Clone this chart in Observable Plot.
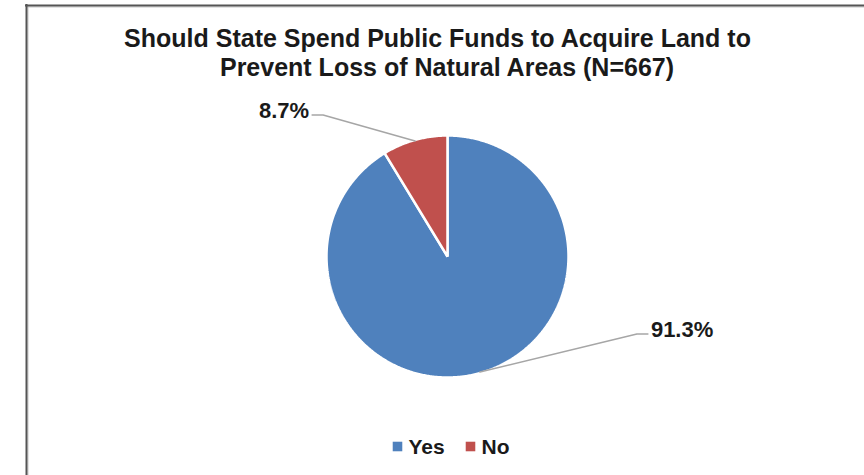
<!DOCTYPE html>
<html><head><meta charset="utf-8">
<script src="https://cdn.jsdelivr.net/npm/d3@7"></script>
<script src="https://cdn.jsdelivr.net/npm/@observablehq/plot@0.6"></script>
<style>html,body{margin:0;padding:0;background:#fff} svg{display:block}</style>
</head><body><div id="chart"></div>
<script>
// ---- data ----
const categories = ["Yes", "No"];
const percents = [91.3, 8.7];
const colors = ["#4F81BD", "#C0504D"];
const titleLines = ["Should State Spend Public Funds to Acquire Land to", "Prevent Loss of Natural Areas (N=667)"];

// ---- layout / style ----
const W = 864, H = 475;
const L = {
  cx: 447, cy: 256, r: 121,
  title: {x: [437, 446.5], y: [46, 75], width: [622, 463], size: 25},
  labelSize: 22,
  labels: {Yes: {dx: 157, dy: -38, side: 1}, No: {dx: -92, dy: -26, side: -1}},
  hook: 11, gap: 3,
  legend: {y: 446, base: 453, sq: [397, 470], tx: [408, 481], size: 21},
  font: "Liberation Sans, Arial, sans-serif"
};

const data = categories.map((c, i) => ({category: c, value: percents[i]}));
const arcs = d3.pie().sort(null).value(d => d.value).startAngle(0).endAngle(2 * Math.PI)(data);
const pt = (a, rr) => ({x: L.cx + rr * Math.sin(a), y: L.cy - rr * Math.cos(a)});

const slicePts = arcs.flatMap(a => {
  const n = Math.max(2, Math.ceil((a.endAngle - a.startAngle) / (Math.PI / 360)));
  const pts = [{...pt(0, 0)}];
  for (let i = 0; i <= n; i++) pts.push(pt(a.startAngle + (a.endAngle - a.startAngle) * i / n, L.r));
  return pts.map(p => ({...p, category: a.data.category}));
});

const leaders = [], labelRows = [];
arcs.forEach(a => {
  const mid = (a.startAngle + a.endAngle) / 2;
  const lay = L.labels[a.data.category];
  const p0 = pt(mid, L.r - 1);
  const e = {x: p0.x + lay.dx, y: p0.y + lay.dy};
  const h = {x: e.x + lay.side * L.hook, y: e.y};
  [p0, e, h].forEach(p => leaders.push({...p, category: a.data.category}));
  labelRows.push({x: h.x + lay.side * L.gap, y: e.y + 3, text: d3.format(".1f")(a.data.value) + "%", side: lay.side});
});

const titleRows = titleLines.map((t, i) => ({text: t, x: L.title.x[i], y: L.title.y[i]}));
const legendRows = categories.map((c, i) => ({category: c, sq: L.legend.sq[i], tx: L.legend.tx[i]}));
const labelStyle = {x: "x", y: "y", text: "text", lineAnchor: "bottom", fontSize: L.labelSize, fontWeight: "bold", fill: "#1a1a1a"};

const chart = Plot.plot({
  width: W, height: H, margin: 0,
  x: {domain: [0, W], range: [0, W], axis: null},
  y: {domain: [0, H], range: [0, H], axis: null},
  color: {domain: categories, range: colors},
  style: {fontFamily: L.font, background: "#fff"},
  marks: [
    Plot.ruleX([27.5], {y1: 6, y2: H, stroke: "#c8c8c8", strokeWidth: 1}),
    Plot.ruleY([6.5], {x1: 27, x2: W, stroke: "#c8c8c8", strokeWidth: 1}),
    Plot.ruleX([26], {y1: 4, y2: H, stroke: "#555", strokeWidth: 2}),
    Plot.ruleY([5], {x1: 25, x2: W, stroke: "#555", strokeWidth: 2}),
    Plot.line(slicePts, {x: "x", y: "y", z: "category", fill: "category", stroke: "#fff", strokeWidth: 2.5, curve: "linear-closed", strokeLinejoin: "miter"}),
    Plot.line(leaders, {x: "x", y: "y", z: "category", stroke: "#a6a6a6", strokeWidth: 1.5}),
    Plot.text(labelRows.filter(d => d.side > 0), {...labelStyle, textAnchor: "start"}),
    Plot.text(labelRows.filter(d => d.side < 0), {...labelStyle, textAnchor: "end"}),
    Plot.text(titleRows, {x: "x", y: "y", text: "text", lineAnchor: "bottom", fontSize: L.title.size, fontWeight: "bold", fill: "#1a1a1a", ariaLabel: "title"}),
    Plot.dot(legendRows, {x: "sq", y: L.legend.y, symbol: "square", r: 5.4, fill: "category", stroke: null}),
    Plot.text(legendRows, {x: "tx", y: L.legend.base, text: "category", textAnchor: "start", lineAnchor: "bottom", fontSize: L.legend.size, fontWeight: "bold", fill: "#1a1a1a"})
  ]
});
d3.select(chart).selectAll('g[aria-label="title"] text').each(function(d, i) {
  this.setAttribute("textLength", L.title.width[i]);
  this.setAttribute("lengthAdjust", "spacingAndGlyphs");
});
document.getElementById("chart").appendChild(chart);
</script>
</body></html>
